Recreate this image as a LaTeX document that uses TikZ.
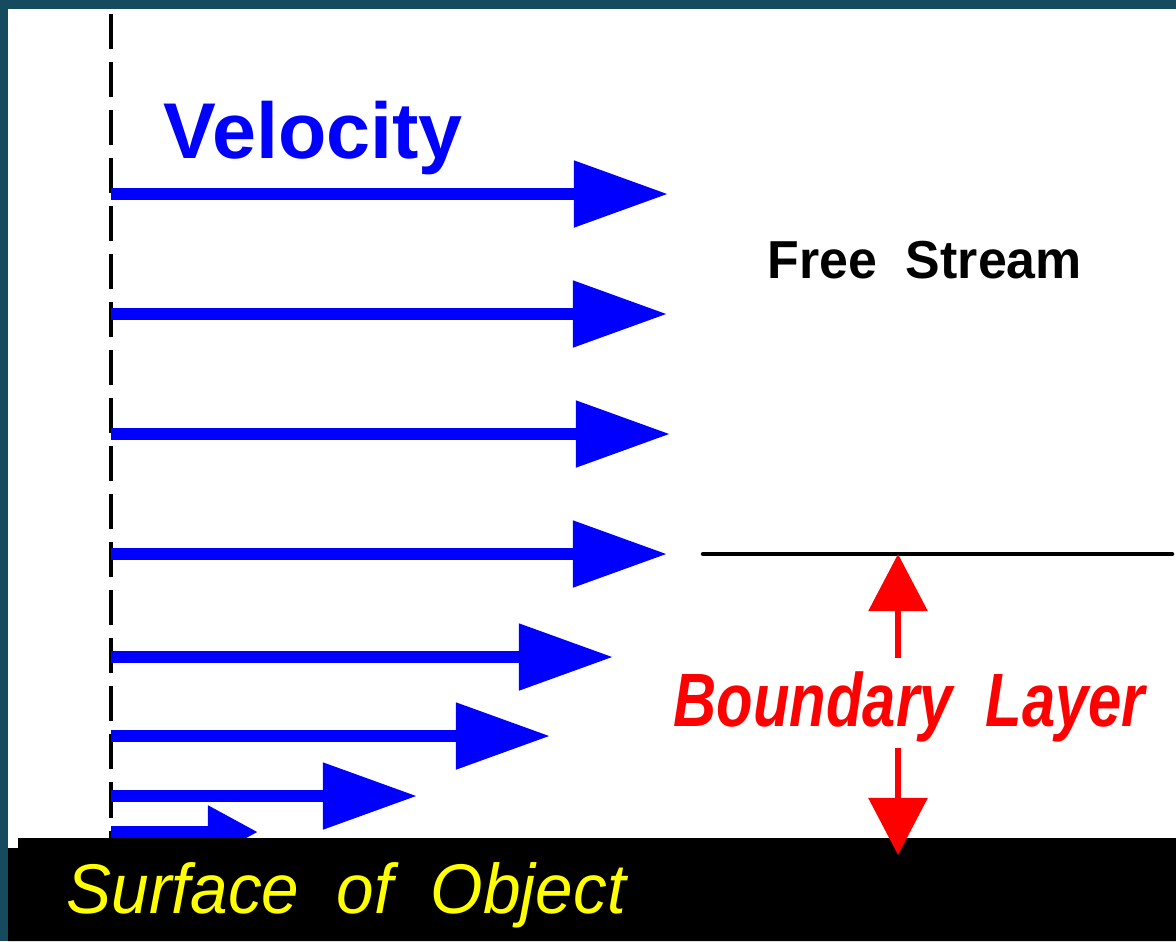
\documentclass[tikz,border=0pt]{standalone}
\usepackage{graphicx}
\usepackage{fontspec}
\setmainfont{Liberation Sans}
\usetikzlibrary{arrows.meta}

\definecolor{flowblue}{HTML}{0000FF}
\definecolor{layerred}{HTML}{FF0000}
\definecolor{wallyellow}{HTML}{FFFF00}
\definecolor{frameteal}{HTML}{164A5E}
\tikzset{
  flow arrow/.style={flowblue, line width=0.115cm, -{Triangle[length=0.94cm, width=0.64cm]}},
  gauge arrow/.style={layerred, line width=0.06cm, -{Triangle[length=0.57cm, width=0.58cm]}},
  centreline/.style={black, line width=0.045cm, dash pattern=on 0.35cm off 0.13cm},
  edge line/.style={black, line width=0.045cm, line cap=round},
  flow label/.style={anchor=base west, inner sep=0pt},
}

\begin{document}
\begin{tikzpicture}[x=0.01cm, y=-0.01cm]
  \useasboundingbox (0,0) rectangle (1176,941);
  \fill[frameteal] (0,0) rectangle (1176,941);
  \fill[white] (8,9) rectangle (1176,941);

  \draw[centreline] (111,14) -- (111,838);

  % velocity profile
  \foreach \y/\tip [count=\i] in {194/668, 314/667, 434/670, 554/667, 657/613, 736/550, 796/417} {
    \coordinate (s\i) at (111,\y);
    \coordinate (t\i) at (\tip,\y);
    \draw[flow arrow] (s\i) -- (t\i);
  }
  \coordinate (s8) at (111,832);
  \coordinate (t8) at (258,832);
  \draw[flow arrow, -{Triangle[length=0.5cm, width=0.5cm]}] (s8) -- (t8);

  % edge of the layer
  \coordinate (edgeL) at (703,554);
  \coordinate (edgeR) at (1172,554);
  \draw[edge line] (edgeL) -- (edgeR);

  % surface
  \fill[black] (18,838) -- (1176,838) -- (1176,941) -- (8,941) -- (8,848) -- (18,848) -- cycle;

  \coordinate (BLtop) at (898,554);
  \coordinate (BLa) at (898,658);
  \coordinate (BLb) at (898,748);
  \coordinate (BLwall) at (898,855);
  \draw[gauge arrow] (BLa) -- (BLtop);
  \draw[gauge arrow] (BLb) -- (BLwall);

  \node[flow label, flowblue, font=\fontsize{22.5}{27}\selectfont\bfseries] (velocity) at (163,158) {Velocity};
  \node[flow label, font=\fontsize{15.2}{19}\selectfont\bfseries] (free) at (767,278) {\scalebox{0.97}[1]{Free\ \ Stream}};
  \node[flow label, layerred, font=\fontsize{21.5}{26}\selectfont\bfseries\itshape] (layer) at (673,726) {\scalebox{0.79}[1]{Boundary\ \ Layer}};
  \node[flow label, wallyellow, font=\fontsize{20}{24}\selectfont\itshape] (surface) at (66,913) {\scalebox{0.96}[1]{Surface\ \ of\ \ Object}};
\end{tikzpicture}
\end{document}
